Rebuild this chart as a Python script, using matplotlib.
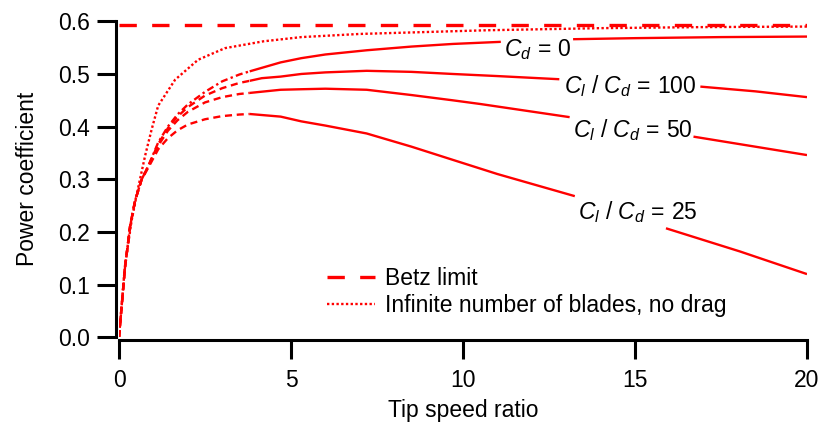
import numpy as np
import matplotlib
matplotlib.use("Agg")
import matplotlib.pyplot as plt

plt.rcParams["font.family"] = ["Liberation Sans", "DejaVu Sans"]
plt.rcParams["mathtext.fontset"] = "custom"
plt.rcParams["mathtext.rm"] = "Liberation Sans"
plt.rcParams["mathtext.it"] = "Liberation Sans:italic"

RED = "#ff0000"
FS = 16.5

betz = 16 / 27

# infinite number of blades, no drag
tsr_inf = [0, 0.17, 0.37, 0.56, 0.76, 0.95, 1.14, 1.63, 2.3, 3.08, 4.2, 5.3, 7.0, 10.7, 14.0, 17.0, 20.0]
cp_inf = [0, 0.134, 0.223, 0.285, 0.345, 0.395, 0.44, 0.489, 0.527, 0.549, 0.562, 0.570, 0.576, 0.583, 0.587, 0.589, 0.590]

# low tip speed ratio part (dashed)
tsr_lo = [0, 0.17, 0.32, 0.47, 0.66, 0.85, 1.14, 1.42, 1.7, 2.0, 2.5, 3.0, 3.5, 3.8]
cp_lo = {
    "cd0": [0, 0.13, 0.21, 0.26, 0.30, 0.325, 0.37, 0.40, 0.423, 0.442, 0.466, 0.486, 0.499, 0.505],
    "ld100": [0, 0.13, 0.21, 0.26, 0.30, 0.325, 0.367, 0.397, 0.419, 0.437, 0.459, 0.473, 0.483, 0.487],
    "ld50": [0, 0.13, 0.21, 0.26, 0.30, 0.324, 0.364, 0.392, 0.412, 0.428, 0.446, 0.456, 0.462, 0.464],
    "ld25": [0, 0.13, 0.21, 0.26, 0.30, 0.322, 0.357, 0.378, 0.393, 0.404, 0.414, 0.42, 0.423, 0.424],
}

# solid part
tsr_hi = {
    "cd0": [3.8, 4.7, 5.3, 6.0, 7.2, 8.5, 9.7, 11.1, 13.2, 15.0, 17.5, 20.0],
    "ld100": [3.8, 4.15, 4.7, 5.3, 6.0, 7.2, 8.5, 9.7, 11.0, 12.8, 16.9, 18.5, 20.0],
    "ld50": [3.8, 4.7, 5.3, 6.0, 7.2, 8.5, 9.7, 10.5, 13.1, 16.7, 20.0],
    "ld25": [3.8, 4.7, 5.3, 6.0, 7.2, 8.5, 9.7, 11.0, 13.25, 15.9, 18.05, 20.0],
}
cp_hi = {
    "cd0": [0.505, 0.522, 0.530, 0.537, 0.545, 0.552, 0.557, 0.561, 0.566, 0.568, 0.570, 0.571],
    "ld100": [0.487, 0.492, 0.495, 0.500, 0.503, 0.506, 0.504, 0.500, 0.496, 0.490, 0.476, 0.467, 0.456],
    "ld50": [0.464, 0.470, 0.471, 0.472, 0.470, 0.460, 0.450, 0.443, 0.418, 0.381, 0.346],
    "ld25": [0.424, 0.419, 0.410, 0.402, 0.387, 0.362, 0.337, 0.310, 0.268, 0.207, 0.163, 0.120],
}
# where each curve is broken for its label
gaps = {"cd0": (11.1, 13.2), "ld100": (12.8, 16.9), "ld50": (13.1, 16.7), "ld25": (13.25, 15.9)}

labels = {
    "cd0": r"$C_d\,=\,0$",
    "ld100": r"$C_l\ /\ C_d\,=\,100$",
    "ld50": r"$C_l\ /\ C_d\,=\,50$",
    "ld25": r"$C_l\ /\ C_d\,=\,25$",
}
label_pos = {"cd0": (12.18, 0.547), "ld100": (14.85, 0.477), "ld50": (14.93, 0.394), "ld25": (15.07, 0.238)}

W, H = 823, 425
fig = plt.figure(figsize=(W / 100, H / 100), dpi=100)
ax = fig.add_axes([119 / W, 1 - 337.3 / H, 688 / W, 316 / H])

lw = 1.7
ax.plot([0, 20], [betz, betz], color=RED, lw=2.4, dashes=(5.2, 4.6), label="Betz limit")
ax.plot(tsr_inf, cp_inf, color=RED, lw=1.7, dashes=(1, 1), label="Infinite number of blades, no drag")

for key in cp_lo:
    dash = (3.0, 1.4, 1.0, 1.4) if key == "cd0" else (3.0, 2.0)
    ax.plot(tsr_lo, cp_lo[key], color=RED, lw=lw, dashes=dash)
    x = np.array(tsr_hi[key])
    y = np.array(cp_hi[key], dtype=float)
    lo, hi = gaps[key]
    # two pieces, broken where the label sits
    left = x <= lo
    right = x >= hi
    ax.plot(x[left], y[left], color=RED, lw=lw, solid_capstyle="butt")
    ax.plot(x[right], y[right], color=RED, lw=lw, solid_capstyle="butt")
    ax.text(*label_pos[key], labels[key], fontsize=FS, ha="center", va="center")

ax.set_xlim(0, 20)
ax.set_ylim(0, 0.6)
ax.set_xticks([0, 5, 10, 15, 20])
ax.set_yticks([0.0, 0.1, 0.2, 0.3, 0.4, 0.5, 0.6])
ax.set_yticklabels(["0.0", "0.1", "0.2", "0.3", "0.4", "0.5", "0.6"])
for s in ["top", "right"]:
    ax.spines[s].set_visible(False)
for s in ["left", "bottom"]:
    ax.spines[s].set_linewidth(2.2)
    ax.spines[s].set_position(("outward", 2))
ax.tick_params(axis="both", direction="out", length=14, width=2.2, labelsize=FS, pad=5)
ax.tick_params(axis="x", pad=7)

ax.set_xlabel("Tip speed ratio", fontsize=FS, labelpad=5)
ax.set_ylabel("Power coefficient", fontsize=FS, labelpad=14)

ax.legend(loc="upper left", bbox_to_anchor=(0.302, 0.222), frameon=False, fontsize=FS,
          handlelength=2.1, handletextpad=0.45, labelspacing=0.15, borderpad=0, borderaxespad=0)

fig.savefig("out.png", dpi=100)
